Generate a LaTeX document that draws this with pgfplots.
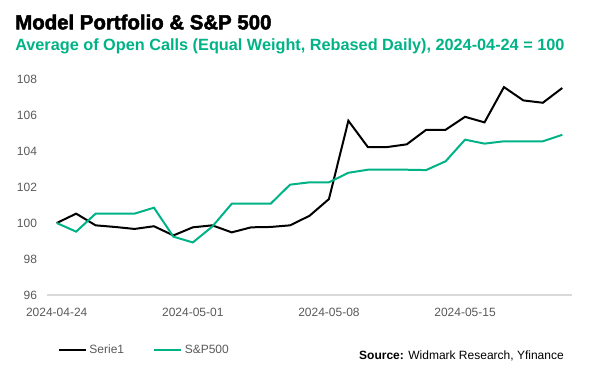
\documentclass[border=0pt]{standalone}
\usepackage{pgfplots}
\pgfplotsset{compat=1.18}
\usetikzlibrary{calc}
\usepackage{fontspec}
\setmainfont{Liberation Sans}
\newfontfamily\titlefont[FakeBold=2.4]{Liberation Sans Bold}
\definecolor{wgreen}{HTML}{00B386}
\definecolor{tickgray}{HTML}{595959}
\definecolor{axgray}{HTML}{D9D9D9}
\begin{document}
\begin{tikzpicture}[x=1pt,y=1pt]
\begin{axis}[
  name=ax,
  at={(0,0)}, anchor=south west,
  scale only axis, width=393.75pt, height=162pt,
  xmin=-0.5, xmax=26.5, ymin=96, ymax=108,
  xtick={0,7,14,21},
  xticklabels={2024-04-24,2024-05-01,2024-05-08,2024-05-15},
  ytick={96,98,...,108},
  axis x line*=bottom, axis y line*=left,
  x axis line style={axgray, line width=1pt, -},
  y axis line style={draw=none},
  major tick length=0pt,
  tick label style={font=\fontsize{9}{11}\selectfont, text=tickgray},
  xticklabel style={yshift=-6.5pt},
  yticklabel style={xshift=-4pt},
  /pgf/number format/assume math mode=true,
  clip=false,
  legend style={at={(0.013,-0.255)}, anchor=west, draw=none, fill=none,
    font=\fontsize{9}{11}\selectfont, text=tickgray,
    /tikz/every even column/.append style={column sep=20pt}},
  legend columns=2,
  legend image code/.code={\draw[#1] (0pt,0pt) -- (20pt,0pt);},
  legend cell align=left,
]
\addplot[draw=black, line width=1.5pt] coordinates {
(0,100.0) (1,100.52) (2,99.87) (3,99.78) (4,99.67) (5,99.82) (6,99.31) (7,99.76) (8,99.87) (9,99.48)
(10,99.76) (11,99.78) (12,99.87) (13,100.4) (14,101.33) (15,105.68) (16,104.22) (17,104.22) (18,104.37) (19,105.18)
(20,105.18) (21,105.9) (22,105.59) (23,107.55) (24,106.81) (25,106.68) (26,107.5)
};
\addlegendentry{Serie1}
\addplot[draw=wgreen, line width=1.5pt] coordinates {
(0,100.0) (1,99.52) (2,100.52) (3,100.52) (4,100.52) (5,100.85) (6,99.24) (7,98.92) (8,99.8) (9,101.07)
(10,101.07) (11,101.07) (12,102.13) (13,102.26) (14,102.26) (15,102.79) (16,102.96) (17,102.96) (18,102.96) (19,102.94)
(20,103.43) (21,104.63) (22,104.41) (23,104.54) (24,104.54) (25,104.54) (26,104.9)
};
\addlegendentry{S\&P500}
\end{axis}
\coordinate (O) at ($(ax.south west)+(-35.25,-57.75)$);
\path[use as bounding box] (O) rectangle ($(O)+(450,279)$);
\node[anchor=base west, inner sep=0] at ($(O)+(11.25,257)$) {\titlefont\fontsize{15.3}{18}\selectfont Model Portfolio \& S\&P 500};
\node[anchor=base west, inner sep=0, text=wgreen] at ($(O)+(11.25,241)$) {\bfseries\fontsize{12.2}{14}\selectfont Average of Open Calls (Equal Weight, Rebased Daily), 2024-04-24 = 100};
\node[anchor=base east, inner sep=0] at ($(O)+(423,9.5)$) {\fontsize{9}{11}\selectfont\textbf{Source:} Widmark Research, Yfinance};
\end{tikzpicture}
\end{document}
